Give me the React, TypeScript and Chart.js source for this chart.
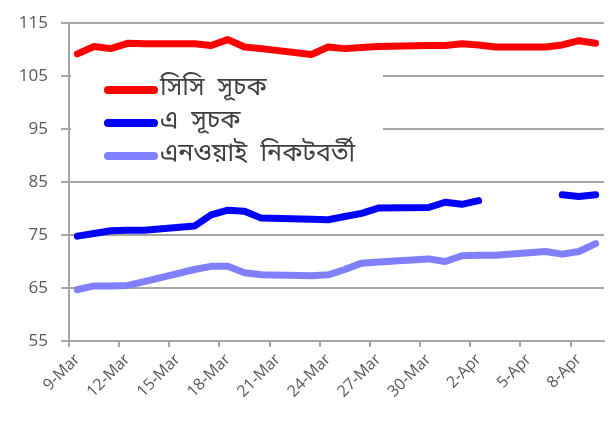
import React, { useEffect, useRef } from 'react';
import { Chart, registerables } from 'chart.js';

Chart.register(...registerables);

// Calendar days shown on the date axis (one slot per day)
const calendarDays = [
  '9-Mar', '10-Mar', '11-Mar', '12-Mar', '13-Mar', '14-Mar', '15-Mar', '16-Mar',
  '17-Mar', '18-Mar', '19-Mar', '20-Mar', '21-Mar', '22-Mar', '23-Mar', '24-Mar',
  '25-Mar', '26-Mar', '27-Mar', '28-Mar', '29-Mar', '30-Mar', '31-Mar', '1-Apr',
  '2-Apr', '3-Apr', '4-Apr', '5-Apr', '6-Apr', '7-Apr', '8-Apr', '9-Apr',
];

// Days that carry data
const tradeDays = [
  '9-Mar', '10-Mar', '11-Mar', '12-Mar', '13-Mar',
  '16-Mar', '17-Mar', '18-Mar', '19-Mar', '20-Mar',
  '23-Mar', '24-Mar', '25-Mar', '26-Mar', '27-Mar',
  '30-Mar', '31-Mar', '1-Apr', '2-Apr', '3-Apr',
  '6-Apr', '7-Apr', '8-Apr', '9-Apr',
];

const seriesNames = ['সিসি  সূচক', 'এ  সূচক', 'এনওয়াই  নিকটবর্তী'];

const ccIndex = [
  109.2, 110.6, 110.2, 111.2, 111.1,
  111.1, 110.8, 111.9, 110.5, 110.2,
  109.1, 110.5, 110.2, 110.4, 110.6,
  110.8, 110.8, 111.1, 110.9, 110.5,
  110.5, 110.9, 111.7, 111.2,
];

const aIndex: (number | null)[] = [
  74.8, 75.3, 75.8, 75.9, 75.9,
  76.7, 78.8, 79.7, 79.5, 78.2,
  78.0, 77.9, 78.5, 79.1, 80.1,
  80.2, 81.2, 80.8, 81.5, null,
  null, 82.6, 82.3, 82.6,
];

const nyNearby = [
  64.7, 65.4, 65.4, 65.5, 66.2,
  68.5, 69.1, 69.1, 67.9, 67.5,
  67.3, 67.5, 68.5, 69.7, 69.9,
  70.5, 70.0, 71.1, 71.2, 71.2,
  71.9, 71.4, 71.9, 73.4,
];

const seriesColors = ['#FF0000', '#0000FF', '#8080FF'];

const yMin = 55;
const yMax = 115;
const yStep = 10;
const labelEvery = 3;

const GRID = '#a6a6a6';
const TEXT = '#595959';

const insideLegend = {
  id: 'insideLegend',
  afterDraw(chart: any) {
    const ctx = chart.ctx as CanvasRenderingContext2D;
    ctx.save();
    ctx.fillStyle = '#ffffff';
    ctx.fillRect(71, 71, 312, 100);
    chart.data.datasets.forEach((ds: any, i: number) => {
      const y = 90 + i * 33;
      ctx.strokeStyle = ds.borderColor;
      ctx.lineWidth = 8;
      ctx.lineCap = 'round';
      ctx.beginPath();
      ctx.moveTo(108, y);
      ctx.lineTo(154, y);
      ctx.stroke();
      ctx.fillStyle = '#404040';
      ctx.font = "25px 'Noto Sans Bengali', 'Lohit Bengali', Vrinda, 'Noto Sans', sans-serif";
      ctx.textBaseline = 'middle';
      ctx.textAlign = 'left';
      ctx.fillText(ds.label, 160, y);
    });
    ctx.restore();
  },
};

export default function App() {
  const canvasRef = useRef<HTMLCanvasElement | null>(null);

  useEffect(() => {
    document.body.style.margin = '0';
    const canvas = canvasRef.current;
    if (!canvas) return;
    const series = [ccIndex, aIndex, nyNearby];
    const chart = new Chart(canvas, {
      type: 'line',
      data: {
        labels: calendarDays,
        datasets: series.map((values, s) => ({
          label: seriesNames[s],
          data: tradeDays.map((d, i) => ({ x: d, y: values[i] })),
          borderColor: seriesColors[s],
          backgroundColor: seriesColors[s],
          borderWidth: 7,
          borderCapStyle: 'round',
          borderJoinStyle: 'round',
          pointRadius: 0,
          pointHoverRadius: 0,
          tension: 0,
          fill: false,
        })),
      },
      options: {
        animation: false,
        responsive: false,
        maintainAspectRatio: false,
        layout: { padding: { top: 11, right: 12, left: 0, bottom: 0 } },
        plugins: {
          legend: { display: false },
          tooltip: { enabled: false },
          title: { display: false },
        },
        scales: {
          x: {
            type: 'category',
            offset: true,
            afterFit: (scale: any) => {
              scale.height = 90;
            },
            grid: {
              display: true,
              offset: true,
              drawOnChartArea: false,
              drawTicks: true,
              tickLength: 6,
              lineWidth: 2,
              color: (c: any) => (c.index % labelEvery === 0 ? GRID : 'rgba(0,0,0,0)'),
            },
            border: { display: true, color: GRID, width: 2 },
            ticks: {
              autoSkip: false,
              maxRotation: 45,
              minRotation: 45,
              padding: 3,
              color: TEXT,
              font: { family: "'Open Sans', 'Noto Sans', sans-serif", size: 16 },
              callback: function (this: any, _v: any, i: number) {
                return i % labelEvery === 0 ? calendarDays[i] : '';
              },
            },
          },
          y: {
            min: yMin,
            max: yMax,
            afterFit: (scale: any) => {
              scale.width = 69;
            },
            grid: {
              color: GRID,
              lineWidth: 2,
              drawTicks: true,
              tickLength: 8,
            },
            border: { display: true, color: GRID, width: 2 },
            ticks: {
              stepSize: yStep,
              padding: 13,
              color: TEXT,
              font: { family: "'Open Sans', 'Noto Sans', sans-serif", size: 17 },
            },
          },
        },
      },
      plugins: [insideLegend],
    } as any);
    return () => chart.destroy();
  }, []);

  return (
    <div style={{ width: 616, height: 431, position: 'relative' }}>
      <canvas ref={canvasRef} width={616} height={431} style={{ display: 'block' }} />
    </div>
  );
}
